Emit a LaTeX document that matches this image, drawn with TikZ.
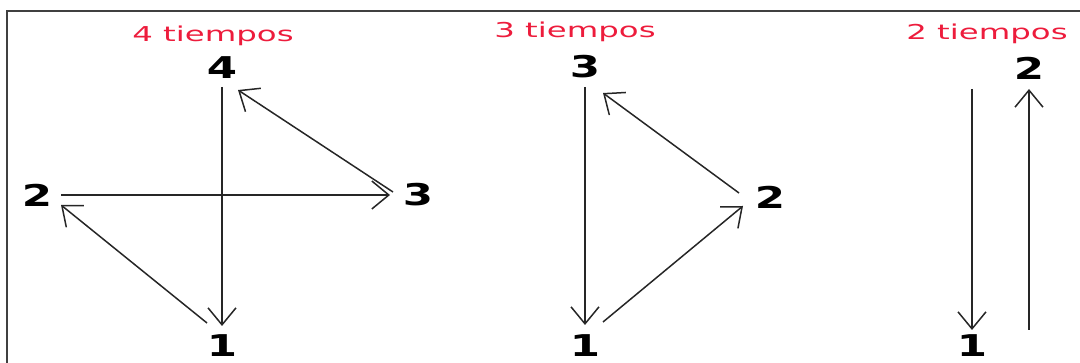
\documentclass[tikz,border=0pt]{standalone}
\usepackage{fontspec}
\setmainfont{DejaVu Sans}
\usetikzlibrary{arrows.meta}
\definecolor{tred}{RGB}{237,28,60}
\begin{document}
\begin{tikzpicture}[x=1pt,y=-1pt,
  num/.style={inner sep=0pt, font=\bfseries\fontsize{30}{30}\selectfont},
  title/.style={inner sep=0pt, anchor=base, text=tred, font=\fontsize{20.5}{20.5}\selectfont},
  arr/.style={draw=black!85, line width=1.5pt, -{Straight Barb[length=17pt,width=28pt]}},
  frame/.style={line width=2pt, draw=black!75}]
\useasboundingbox (0,0) rectangle (1080,363);
\clip (0,0) rectangle (1080,363);
\draw[frame] (7,400) -- (7,11) -- (1100,11);

% titles
\node[title] (t4) at (213,42) {\scalebox{1.58}[1]{4 tiempos}};
\node[title] (t3) at (575,38) {\scalebox{1.58}[1]{3 tiempos}};
\node[title] (t2) at (987,40) {\scalebox{1.58}[1]{2 tiempos}};

% left panel
\node[num] (a4) at (222,68) {\scalebox{1.45}[1]{4}};
\node[num] (a1) at (222,346) {\scalebox{1.45}[1]{1}};
\node[num] (a2) at (37,195) {\scalebox{1.45}[1]{2}};
\node[num] (a3) at (418,195) {\scalebox{1.45}[1]{3}};
\draw[arr] ([shift={(0,19)}]a4.center) -- ([shift={(0,-20)}]a1.center);
\draw[arr] ([shift={(24,0)}]a2.center) -- ([shift={(-28,0)}]a3.center);
\draw[arr] ([shift={(-15,-23)}]a1.center) -- ([shift={(24,10)}]a2.center);
\draw[arr] ([shift={(-25,-3)}]a3.center) -- ([shift={(16,22)}]a4.center);

% middle panel
\node[num] (b3) at (585,67) {\scalebox{1.45}[1]{3}};
\node[num] (b1) at (585,346) {\scalebox{1.45}[1]{1}};
\node[num] (b2) at (770,197) {\scalebox{1.45}[1]{2}};
\draw[arr] ([shift={(0,20)}]b3.center) -- ([shift={(0,-21)}]b1.center);
\draw[arr] ([shift={(18,-24)}]b1.center) -- ([shift={(-27,9)}]b2.center);
\draw[arr] ([shift={(-31,-4)}]b2.center) -- ([shift={(18,26)}]b3.center);

% right panel
\node[num] (c2) at (1029,68) {\scalebox{1.45}[1]{2}};
\node[num] (c1) at (972,346) {\scalebox{1.45}[1]{1}};
\coordinate (ctop) at (972,89);
\coordinate (cbot) at (1029,330);
\draw[arr] (ctop) -- ([shift={(0,-16)}]c1.center);
\draw[arr] (cbot) -- ([shift={(0,21)}]c2.center);
\end{tikzpicture}
\end{document}
